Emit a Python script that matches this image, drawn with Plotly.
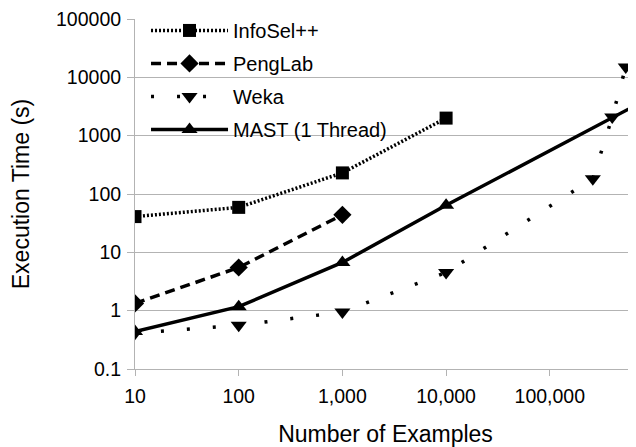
import plotly.graph_objects as go
import math

# Data
x_info = [10, 100, 1000, 10000]
y_info = [41, 59, 230, 2000]
x_peng = [10, 100, 1000]
y_peng = [1.33, 5.5, 44]
x_weka = [10, 100, 1000, 10000, 260000, 400000, 540000]
y_weka = [0.41, 0.56, 0.95, 4.5, 183, 2090, 15100]
x_mast = [10, 100, 1000, 10000, 1000000]
y_mast = [0.44, 1.17, 6.7, 64, 4800]

x_tickvals = [10, 100, 1000, 10000, 100000]
x_ticktext = ["10", "100", "1,000", "10,000", "100,000"]
y_tickvals = [0.1, 1, 10, 100, 1000, 10000, 100000]
y_ticktext = ["0.1", "1", "10", "100", "1000", "10000", "100000"]

FONT = "Liberation Sans, Arial, sans-serif"
GRID = "#b3b3b3"

fig = go.Figure()
fig.add_trace(go.Scatter(x=x_info, y=y_info, name="InfoSel++", mode="lines+markers",
                         legendgroup="a",
                         line=dict(color="black", width=3.5, dash="2px,2px"),
                         marker=dict(symbol="square", size=13, color="black")))
fig.add_trace(go.Scatter(x=x_peng, y=y_peng, name="PengLab", mode="lines+markers",
                         legendgroup="b",
                         line=dict(color="black", width=3.5, dash="10px,6px"),
                         marker=dict(symbol="diamond", size=14, color="black")))
fig.add_trace(go.Scatter(x=x_weka, y=y_weka, name="Weka", mode="lines+markers",
                         legendgroup="c",
                         line=dict(color="black", width=3.5, dash="3px,23px"),
                         marker=dict(symbol="triangle-down", size=14, color="black")))
fig.add_trace(go.Scatter(x=x_mast, y=y_mast, name="MAST (1 Thread)", mode="lines+markers",
                         legendgroup="d",
                         line=dict(color="black", width=3.5),
                         marker=dict(symbol="triangle-up", size=14, color="black")))

fig.update_layout(
    width=628, height=439,
    margin=dict(l=127, r=0, t=11, b=78),
    paper_bgcolor="white", plot_bgcolor="white",
    font=dict(family=FONT, color="black", size=20),
    showlegend=True,
    legend=dict(x=0.022, y=1.023, xanchor="left", yanchor="top",
                bgcolor="rgba(0,0,0,0)", font=dict(size=20, family=FONT),
                itemwidth=77, tracegroupgap=4, traceorder="grouped"),
    xaxis=dict(type="log", range=[1, math.log10(10) + (628 - 127) / 103.7],
               tickvals=x_tickvals, ticktext=x_ticktext,
               tickfont=dict(size=19.5, family=FONT),
               showgrid=False, showline=True, linecolor=GRID, linewidth=1,
               ticks="outside", ticklen=6, tickcolor=GRID, ticklabelstandoff=4,
               title=dict(text="Number of Examples", font=dict(size=23, family=FONT), standoff=26),
               zeroline=False, automargin=False),
    yaxis=dict(type="log", range=[-1, 5.0001],
               tickvals=y_tickvals, ticktext=y_ticktext,
               tickfont=dict(size=19.5, family=FONT),
               showgrid=True, gridcolor=GRID, gridwidth=1,
               showline=True, linecolor=GRID, linewidth=1,
               ticks="outside", ticklen=7, tickcolor=GRID, ticklabelstandoff=2,
               ticklabeloverflow="allow",
               title=dict(text="Execution Time (s)", font=dict(size=23, family=FONT), standoff=24),
               zeroline=False, automargin=False),
)

fig.write_html("out.html")
